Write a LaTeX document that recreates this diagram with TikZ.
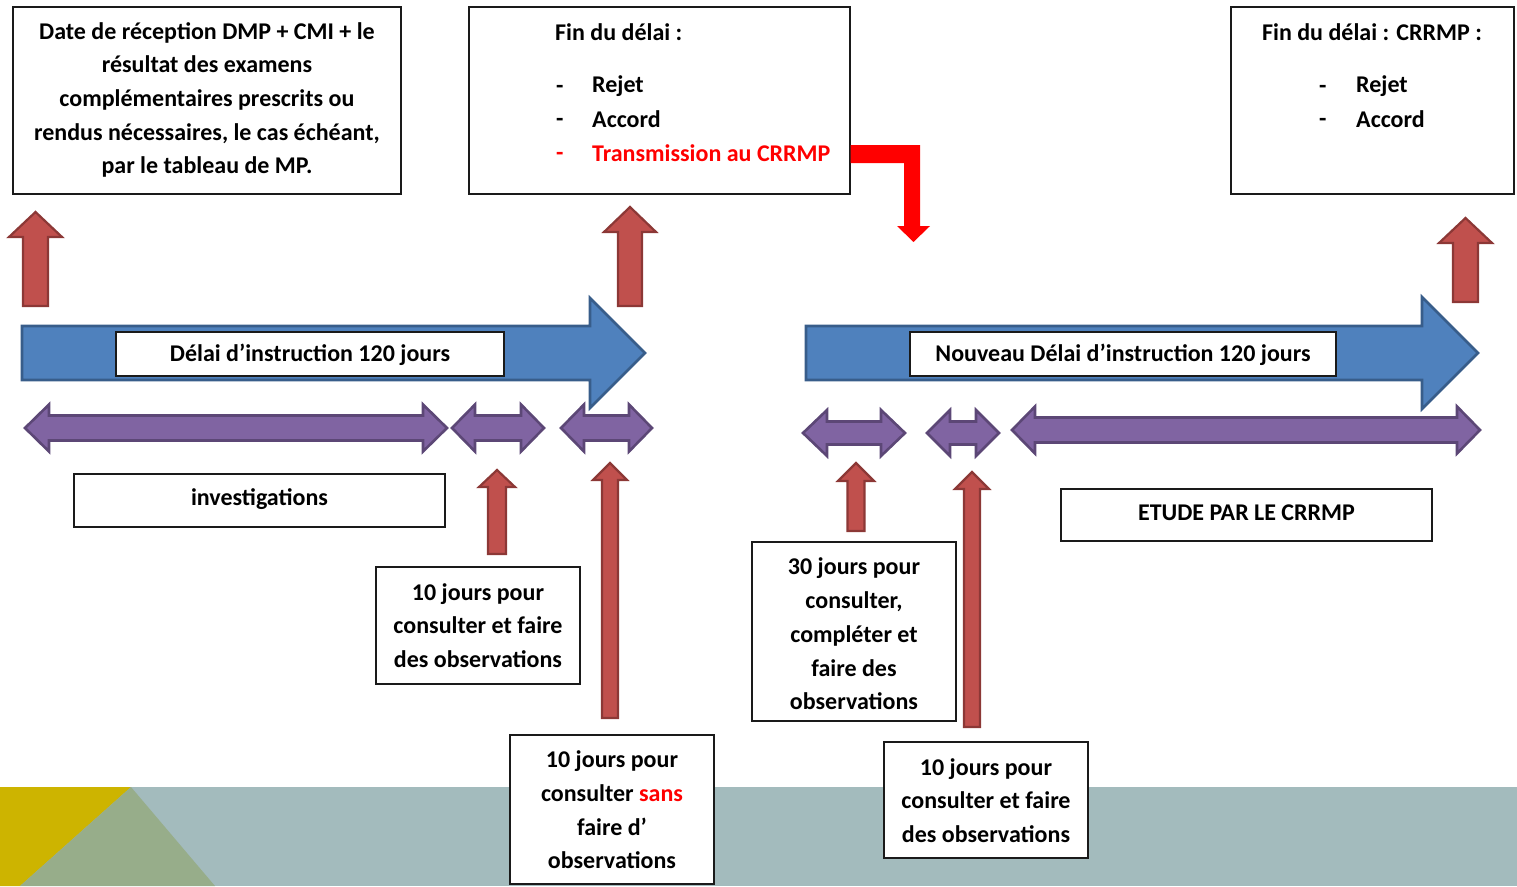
\documentclass[tikz,border=0pt]{standalone}
\usepackage{fontspec}
\setmainfont{Carlito}
\definecolor{bandgray}{HTML}{A3BBBD}
\definecolor{bandyellow}{HTML}{CDB400}
\definecolor{bandgreen}{HTML}{97AD8A}
\definecolor{bluefill}{HTML}{4F81BD}
\definecolor{bluedraw}{HTML}{385D8A}
\definecolor{purplefill}{HTML}{8064A2}
\definecolor{purpledraw}{HTML}{5C4776}
\definecolor{redfill}{HTML}{C0504D}
\definecolor{reddraw}{HTML}{8C3836}
\definecolor{boxline}{HTML}{1A1A1A}
\tikzset{
  txt/.style={font=\fontsize{24}{33.7}\selectfont\bfseries, inner sep=0pt, align=center},
  boxn/.style={draw=boxline, line width=1.4pt, fill=white, inner sep=0pt},
  bluearr/.style={fill=bluefill, draw=bluedraw, line width=2.6pt, line join=miter},
  purplearr/.style={fill=purplefill, draw=purpledraw, line width=2.6pt, line join=miter},
  redarr/.style={fill=redfill, draw=reddraw, line width=2.2pt, line join=miter},
  bentarr/.style={fill=red, draw=none},
}
% up arrow: x, tip y, head base y, bottom y, half head width, half shaft width
\newcommand{\UpArr}[6]{\path[redarr] (#1,#2) -- (#1+#5,#3) -- (#1+#6,#3) -- (#1+#6,#4) -- (#1-#6,#4) -- (#1-#6,#3) -- (#1-#5,#3) -- cycle;}
% double arrow: x1, x2, y centre, head length, half head height, half shaft height
\newcommand{\DblArr}[6]{\path[purplearr] (#1,#3) -- (#1+#4,#3-#5) -- (#1+#4,#3-#6) -- (#2-#4,#3-#6) -- (#2-#4,#3-#5) -- (#2,#3) -- (#2-#4,#3+#5) -- (#2-#4,#3+#6) -- (#1+#4,#3+#6) -- (#1+#4,#3+#5) -- cycle;}
% right arrow: x start, head x, tip x, y centre, half head height, half shaft height
\newcommand{\RArr}[6]{\path[bluearr] (#1,#4-#6) -- (#2,#4-#6) -- (#2,#4-#5) -- (#3,#4) -- (#2,#4+#5) -- (#2,#4+#6) -- (#1,#4+#6) -- cycle;}
\begin{document}
\begin{tikzpicture}[x=1pt,y=-1pt]
\useasboundingbox (0,0) rectangle (1517,886);
% bottom band
\fill[bandgray] (0,787) rectangle (1517,886);
\fill[bandyellow] (0,787) -- (131,787) -- (20,886) -- (0,886) -- cycle;
\fill[bandgreen] (131,787) -- (215,886) -- (20,886) -- cycle;

% blue timeline arrows
\RArr{22}{590}{645}{353}{55}{27}
\RArr{806}{1422}{1478}{353}{56}{27}

% purple double arrows
\DblArr{25}{447}{428}{24}{23.5}{12.5}
\DblArr{452}{544}{428}{23}{23.5}{12.5}
\DblArr{561}{652}{428}{23}{23.5}{12.5}
\DblArr{803}{905}{433}{24}{23}{11.5}
\DblArr{927}{999}{433}{23}{23}{11.5}
\DblArr{1012}{1480}{430}{23}{23.5}{12.5}

% red up arrows
\UpArr{35.5}{212}{237}{306}{26.5}{12.5}
\UpArr{630}{207}{232}{306}{26}{12}
\UpArr{1465.5}{218}{243}{302}{26.5}{12.5}
\UpArr{497}{470}{487}{554}{18}{9}
\UpArr{610}{463}{480}{718}{17}{8}
\UpArr{856}{463}{481}{531}{18}{8.5}
\UpArr{972}{472}{489}{727}{17}{8}

% top boxes
\node[boxn, minimum width=388pt, minimum height=187pt] (box1) at (207,100.5) {};
\node[txt] (t1) at (207,100) {Date de réception DMP + CMI + le\\résultat des examens\\complémentaires prescrits ou\\rendus nécessaires, le cas échéant,\\par le tableau de MP.};

\node[boxn, minimum width=381pt, minimum height=187pt] (box2) at (659.5,100.5) {};
\node[txt, anchor=west] (t2a) at (555,32) {Fin du délai :};
\node[txt, anchor=west] (t2b) at (556,89) {-};
\node[txt, anchor=west] (t2c) at (592,86) {Rejet};
\node[txt, anchor=west] (t2d) at (556,122) {-};
\node[txt, anchor=west] (t2e) at (592,119) {Accord};
\node[txt, anchor=west, text=red] (t2f) at (556,156) {-};
\node[txt, anchor=west, text=red] (t2g) at (592,153) {Transmission au CRRMP};

\node[boxn, minimum width=283pt, minimum height=187pt] (box3) at (1372.5,100.5) {};
\node[txt] (t3a) at (1372,32) {Fin du délai : CRRMP :};
\node[txt, anchor=west] (t3b) at (1319,89) {-};
\node[txt, anchor=west] (t3c) at (1356,86) {Rejet};
\node[txt, anchor=west] (t3d) at (1319,122) {-};
\node[txt, anchor=west] (t3e) at (1356,119) {Accord};

% red bent arrow from box2
\path[bentarr] (box2.east |- 0,145) -- (920,145) -- (920,226) -- (930,226) -- (913.5,242) -- (897,226) -- (904,226) -- (904,163) -- (box2.east |- 0,163) -- cycle;

% labels on timelines
\node[boxn, minimum width=388pt, minimum height=44pt] (lab1) at (310,354) {};
\node[txt] at (310,355) {Délai d’instruction 120 jours};
\node[boxn, minimum width=426pt, minimum height=44pt] (lab2) at (1123,354) {};
\node[txt] at (1123,355) {Nouveau Délai d’instruction 120 jours};

% lower boxes
\node[boxn, minimum width=371pt, minimum height=53pt] (inv) at (259.5,500.5) {};
\node[txt] at (259.5,499) {investigations};

\node[boxn, minimum width=204pt, minimum height=117pt] (b10a) at (478,625.5) {};
\node[txt] at (478,625.5) {10 jours pour\\consulter et faire\\des observations};

\node[boxn, minimum width=204pt, minimum height=149pt] (b10s) at (612,809.5) {};
\node[txt] at (612,810) {10 jours pour\\consulter \textcolor{red}{sans}\\faire d’\\observations};

\node[boxn, minimum width=204pt, minimum height=179pt] (b30) at (854,631.5) {};
\node[txt] at (854,634) {30 jours pour\\consulter,\\compléter et\\faire des\\observations};

\node[boxn, minimum width=204pt, minimum height=116pt] (b10c) at (986,800) {};
\node[txt] at (986,800.5) {10 jours pour\\consulter et faire\\des observations};

\node[boxn, minimum width=371pt, minimum height=52pt] (etude) at (1246.5,515) {};
\node[txt] at (1246.5,513) {ETUDE PAR LE CRRMP};
\end{tikzpicture}
\end{document}
